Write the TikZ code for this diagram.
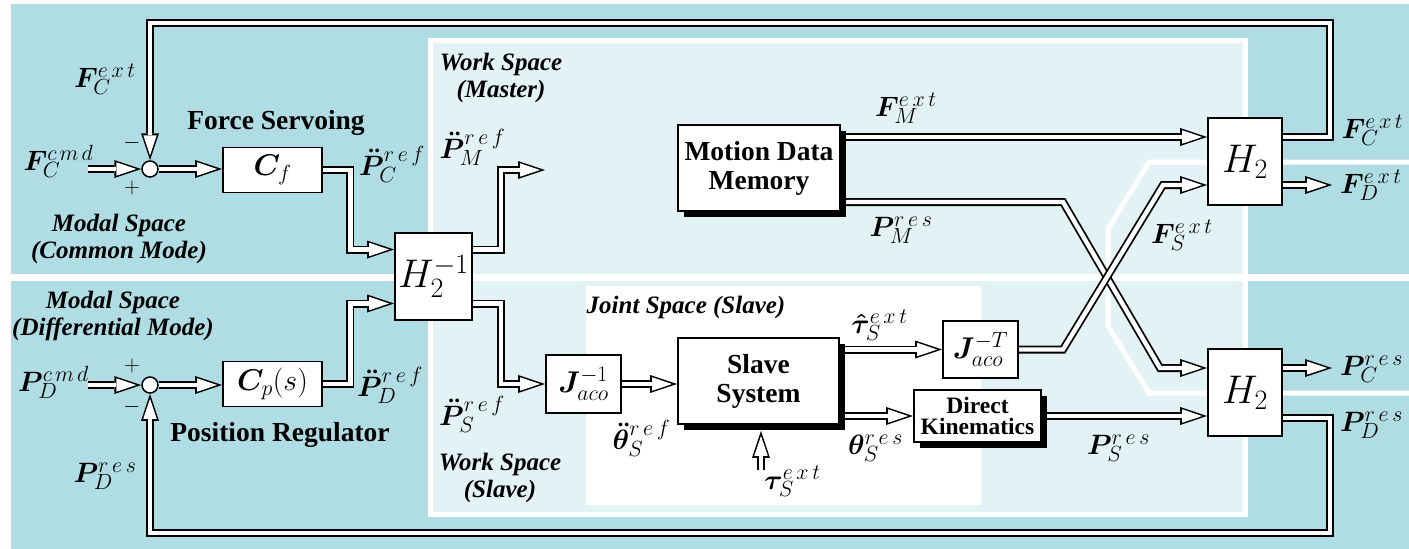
\RequirePackage{fix-cm}
\documentclass[tikz,border=0pt]{standalone}
\usepackage[no-math]{fontspec}
\setmainfont{Liberation Serif}
\usepackage{bm}
\usetikzlibrary{arrows.meta,shadows}

\DeclareMathSizes{22}{22}{15}{11}
\DeclareMathSizes{28}{28}{22}{16}
\DeclareMathSizes{30}{30}{22}{16}
\DeclareMathSizes{40}{40}{28}{20}

\definecolor{tealbg}{RGB}{176,221,228}
\definecolor{palebg}{RGB}{227,243,245}

\newcommand{\labfont}{\fontsize{28}{30}\selectfont}
\newcommand{\boxmath}{\fontsize{30}{34}\selectfont}
\newcommand{\hfont}{\fontsize{40}{44}\selectfont}
\newcommand{\signfont}{\fontsize{22}{24}\selectfont}
\newcommand{\titlefont}{\fontsize{27.5}{29}\selectfont\bfseries}
\newcommand{\regionfont}{\fontsize{25}{27}\selectfont\bfseries\itshape}
\newcommand{\dkfont}{\fontsize{23.5}{21}\selectfont\bfseries}
% spaced-out superscripts
\newcommand{\sExt}{e\mkern3mu x\mkern3mu t}
\newcommand{\sRef}{r\mkern3mu e\mkern3mu f}
\newcommand{\sRes}{r\mkern3mu e\mkern3mu s}
\newcommand{\sCmd}{c\mkern2.5mu m\mkern2.5mu d}

\pgfdeclarelayer{regions}
\pgfdeclarelayer{wires}
\pgfsetlayers{regions,wires,main}

\begin{document}
\begin{tikzpicture}[x=1pt,y=-1pt,
  wire/.style={line width=8pt, line join=miter,
    -{Triangle[length=27pt,width=18pt,line width=0pt]},
    postaction={draw=white, line width=4.4pt, shorten >=5pt,
      -{Triangle[length=20pt,width=13.4pt,line width=0pt]}}},
  blk/.style={draw, line width=1.6pt, fill=white, inner sep=0pt, font=\boxmath},
  hblk/.style={blk, font=\hfont, minimum width=74pt, minimum height=87pt},
  sblk/.style={blk, general shadow={fill=black, shadow xshift=6pt, shadow yshift=-6pt},
    font=\titlefont, align=center},
  sumpt/.style={circle, draw, line width=1.5pt, fill=white, minimum size=16pt, inner sep=0pt},
  lbl/.style={inner sep=0pt, font=\labfont},
  sgn/.style={inner sep=0pt, font=\signfont},
  ttl/.style={inner sep=0pt, font=\titlefont},
  rgn/.style={inner sep=0pt, font=\regionfont, align=center},
]
\useasboundingbox (0,0) rectangle (1409,549);

% coloured spaces
\begin{pgfonlayer}{regions}
  \fill[tealbg] (11,4) rectangle (1409,549);
  \fill[palebg] (428,38) rectangle (1248,517);
  \draw[white, line width=5pt] (430.5,40.5) rectangle (1245.5,514.5);
  \fill[white] (11,274) rectangle (1409,281);
  \fill[white] (586,286) rectangle (981,505);
  \draw[white, line width=5pt, line join=miter]
    (1409,162) -- (1149,162) -- (1108,229) -- (1108,326) -- (1149,393) -- (1409,393);
\end{pgfonlayer}

% blocks
\node[sumpt] (sum1) at (150,169) {};
\node[sumpt] (sum2) at (150,385) {};
\node[blk, minimum width=99pt, minimum height=45pt] (cf) at (272.5,170) {$\bm{C}_f$};
\node[blk, minimum width=99pt, minimum height=45pt] (cp) at (272.5,384) {$\bm{C}_p(s)$};
\node[hblk, minimum width=77pt] (hinv) at (433.5,276.5) {$H_2^{-1}$};
\node[sblk, minimum width=162pt, minimum height=86pt] (mdm) at (759,168) {Motion Data\\Memory};
\node[sblk, minimum width=161pt, minimum height=86pt] (slave) at (758.5,381) {Slave\\System};
\node[blk, minimum width=75pt, minimum height=58pt] (jinv) at (583.5,384) {$\bm{J}_{aco}^{-1}$};
\node[blk, minimum width=75pt, minimum height=57pt] (jt) at (980.5,349.5) {$\bm{J}_{aco}^{-T}$};
\node[sblk, font=\dkfont, minimum width=127pt, minimum height=52pt] (dk) at (977.5,416) {Direct\\Kinematics};
\node[hblk] (h2a) at (1245,161.5) {$H_2$};
\node[hblk] (h2b) at (1245,392.5) {$H_2$};

% labels
\node[lbl] (lFcmd) at (58.5,161.5) {$\bm{F}_C^{\sCmd}$};
\node[lbl] (lFCextL) at (105,79.5) {$\bm{F}_C^{\sExt}$};
\node[sgn] (sgnA) at (132,143) {$-$};
\node[sgn] (sgnB) at (132,188) {$+$};
\node[sgn] (sgnC) at (132,366) {$+$};
\node[sgn] (sgnD) at (132,407) {$-$};
\node[ttl] (tFS) at (276,123) {Force Servoing};
\node[ttl] (tPR) at (280,435) {Position Regulator};
\node[rgn] (rCM) at (119,239) {Modal Space\\(Common Mode)};
\node[rgn] (rDM) at (113,315.5) {Modal Space\\(Differential Mode)};
\node[rgn] (rWM) at (501,78) {Work Space\\(Master)};
\node[rgn] (rWS) at (500,478) {Work Space\\(Slave)};
\node[rgn] (rJS) at (686,307.5) {Joint Space (Slave)};
\node[lbl] (lPCref) at (392,164) {$\bm{\ddot{P}}_C^{\sRef}$};
\node[lbl] (lPDcmd) at (53.5,382.5) {$\bm{P}_D^{\sCmd}$};
\node[lbl] (lPDref) at (390,385.5) {$\bm{\ddot{P}}_D^{\sRef}$};
\node[lbl] (lPDresL) at (105,476.5) {$\bm{P}_D^{\sRes}$};
\node[lbl] (lPMref) at (472.5,147) {$\bm{\ddot{P}}_M^{\sRef}$};
\node[lbl] (lPSref) at (472,414) {$\bm{\ddot{P}}_S^{\sRef}$};
\node[lbl] (lFMext) at (906,108.5) {$\bm{F}_M^{\sExt}$};
\node[lbl] (lPMres) at (901,230.5) {$\bm{P}_M^{\sRes}$};
\node[lbl] (lFCextR) at (1372.5,130) {$\bm{F}_C^{\sExt}$};
\node[lbl] (lFDext) at (1371,185.5) {$\bm{F}_D^{\sExt}$};
\node[lbl] (lFSext) at (1182,235) {$\bm{F}_S^{\sExt}$};
\node[lbl] (lPCres) at (1371.5,369.5) {$\bm{P}_C^{\sRes}$};
\node[lbl] (lPDresR) at (1371.5,425.5) {$\bm{P}_D^{\sRes}$};
\node[lbl] (lPSres) at (1118.5,448.5) {$\bm{P}_S^{\sRes}$};
\node[lbl] (ltauhat) at (879.5,325.5) {$\bm{\hat{\tau}}_S^{\sExt}$};
\node[lbl] (lthres) at (875.5,448.5) {$\bm{\theta}_S^{\sRes}$};
\node[lbl] (ltau) at (792.5,481.5) {$\bm{\tau}_S^{\sExt}$};
\node[lbl] (lthref) at (641.5,438.5) {$\bm{\ddot{\theta}}_S^{\sRef}$};

% ports and free ends
\coordinate (fcin) at (88,169);
\coordinate (pdin) at (88,385);
\coordinate (pmout) at (545,170);
\coordinate (fdout) at (1332,185);
\coordinate (pcout) at (1332,368);
\coordinate (tauin) at (761,470);
\coordinate (fbtop) at (1330,23);
\coordinate (fbbot) at (1330,533);
\coordinate (hin1) at ([yshift=27pt]hinv.west);
\coordinate (hin2) at ([yshift=-27pt]hinv.west);
\coordinate (hout1) at ([yshift=27pt]hinv.east);
\coordinate (hout2) at ([yshift=-27pt]hinv.east);
\coordinate (h2ain1) at ([yshift=24.5pt]h2a.west);
\coordinate (h2ain2) at ([yshift=-23.5pt]h2a.west);
\coordinate (h2aout1) at ([yshift=24.5pt]h2a.east);
\coordinate (h2aout2) at ([yshift=-23.5pt]h2a.east);
\coordinate (h2bin1) at ([yshift=24.5pt]h2b.west);
\coordinate (h2bout1) at ([yshift=24.5pt]h2b.east);
\coordinate (h2bout2) at ([yshift=-25.5pt]h2b.east);
\coordinate (mdmout2) at ([yshift=-34pt]mdm.east);
\coordinate (slavebot) at ([yshift=-6pt]slave.south);

% signal paths
\begin{pgfonlayer}{wires}
  \draw[wire] (fcin) -- (sum1.west);
  \draw[wire] (pdin) -- (sum2.west);
  \draw[wire] (sum1.east) -- (sum1.east -| cf.west);
  \draw[wire] (sum2.east) -- (sum2.east -| cp.west);
  \draw[wire] (cf.east) -- ++(27.5,0) |- (hin1);
  \draw[wire] (cp.east) -- ++(27.5,0) |- (hin2);
  \draw[wire] (hout1) -- ++(28,0) |- (pmout);
  \draw[wire] (hout2) -- ++(28,0) |- (jinv.west);
  \draw[wire] (jinv.east) -- (jinv.east -| slave.west);
  \draw[wire] (slave.east |- jt.west) -- (jt.west);
  \draw[wire] (slave.east |- dk.west) -- (dk.west);
  \draw[wire] (tauin) -- (tauin |- slavebot);
  \draw[wire] (dk.east) -- (dk.east -| h2b.west);
  \draw[wire] (h2ain1 -| mdm.east) -- (h2ain1);
  \draw[wire] (mdmout2) -- (1063,202) -- (1160,368) -- (h2bin1);
  \draw[wire] (jt.east) -- (1063,349.5) -- (1163,185) -- (h2ain2);
  \draw[wire] (h2aout2) -- (fdout);
  \draw[wire] (h2bout1) -- (pcout);
  \draw[wire] (h2aout1) -| (fbtop) -| (sum1.north);
  \draw[wire] (h2bout2) -| (fbbot) -| (sum2.south);
\end{pgfonlayer}
\end{tikzpicture}
\end{document}
